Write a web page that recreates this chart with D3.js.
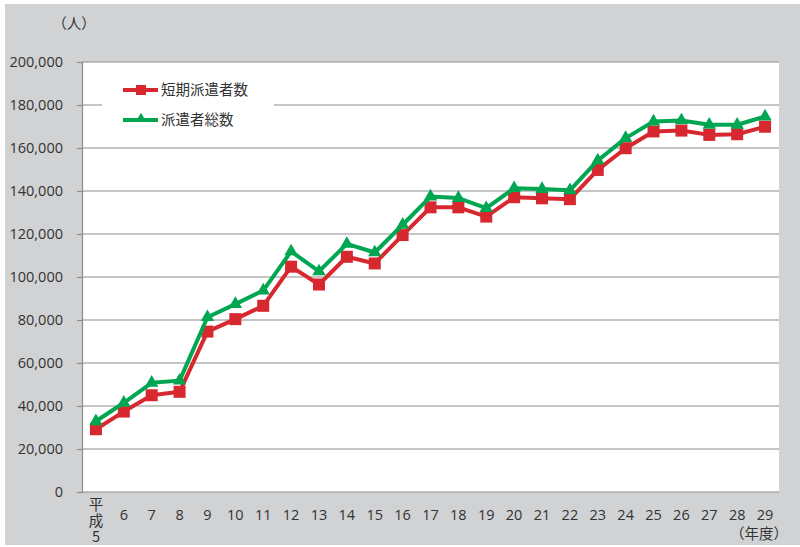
<!DOCTYPE html>
<html>
<head>
<meta charset="utf-8">
<script src="https://cdn.jsdelivr.net/npm/d3@7"></script>
<style>
  html, body { margin: 0; padding: 0; background: #fff; }
  svg { display: block; }
  text { font-family: "Open Sans", "Noto Sans CJK JP", sans-serif; fill: #333; }
</style>
</head>
<body>
<svg id="chart" width="800" height="547"></svg>
<script>
// Fiscal years (Heisei 5 – 29)
const years = [5, 6, 7, 8, 9, 10, 11, 12, 13, 14, 15, 16, 17, 18, 19, 20, 21, 22, 23, 24, 25, 26, 27, 28, 29];

// 短期派遣者数 (short-term dispatched workers)
const shortTerm = [29200, 37400, 45000, 46600, 74600, 80400, 86600, 104800, 96500, 109400, 106300, 119500,
  132400, 132400, 128100, 137100, 136600, 136200, 149800, 159900, 167700, 168100, 166100, 166400, 169900];

// 派遣者総数 (total dispatched workers)
const total = [32900, 41500, 50800, 51800, 81300, 87400, 93700, 111900, 102600, 115400, 111400, 124300,
  137400, 136700, 132000, 141300, 140900, 140300, 154200, 164600, 172300, 172800, 170800, 170800, 174600];

const yTicks = [0, 20000, 40000, 60000, 80000, 100000, 120000, 140000, 160000, 180000, 200000];

const seriesNames = ["短期派遣者数", "派遣者総数"];
const seriesColors = ["#d7282f", "#00a651"];

const svg = d3.select("#chart");
const plot = { left: 82, right: 779, top: 62, bottom: 492 };

// page background
svg.append("rect").attr("x", 5).attr("y", 4).attr("width", 795).attr("height", 541).attr("fill", "#d1d2d4");
svg.append("rect")
  .attr("x", plot.left).attr("y", plot.top)
  .attr("width", plot.right - plot.left).attr("height", plot.bottom - plot.top)
  .attr("fill", "#fff");

const x = d3.scaleBand().domain(years).range([plot.left, plot.right]);
const y = d3.scaleLinear().domain([0, 200000]).range([plot.bottom, plot.top]);

// horizontal grid lines
svg.append("g").selectAll("line").data(yTicks).join("line")
  .attr("x1", plot.left).attr("x2", plot.right)
  .attr("y1", d => y(d)).attr("y2", d => y(d))
  .attr("stroke", "#8c8c8c").attr("stroke-width", 1.2);

// legend panel (hides the grid behind it)
const legend = svg.append("g");
legend.append("rect").attr("x", 102).attr("y", 72).attr("width", 172).attr("height", 64).attr("fill", "#fff");

// y axis
const yAxis = d3.axisLeft(y).tickValues(yTicks).tickSize(5).tickPadding(14)
  .tickFormat(d3.format(","));
const gy = svg.append("g").attr("transform", `translate(${plot.left},0)`).call(yAxis);
gy.select(".domain").attr("stroke", "#8c8c8c").attr("stroke-width", 1.2);
gy.selectAll(".tick line").attr("stroke", "#8c8c8c").attr("stroke-width", 1.2);
gy.selectAll(".tick text").attr("font-size", 14.5).attr("fill", "#2b2b2b")
  .style("font-family", "'Open Sans', sans-serif");

// x axis labels (the first year is written vertically as 平成5)
const gx = svg.append("g");
years.forEach(yr => {
  const cx = x(yr) + x.bandwidth() / 2;
  if (yr === 5) {
    gx.append("text").attr("x", cx).attr("y", 497)
      .attr("font-size", 14.5).attr("fill", "#2b2b2b")
      .style("writing-mode", "vertical-rl")
      .style("text-orientation", "upright")
      .style("letter-spacing", "1.5px")
      .style("font-family", "'Noto Sans CJK JP', sans-serif")
      .text("平成5");
  } else {
    gx.append("text").attr("x", cx).attr("y", 520)
      .attr("text-anchor", "middle").attr("font-size", 14.5).attr("fill", "#2b2b2b").text(yr);
  }
});
svg.append("text").attr("x", 759).attr("y", 539).attr("text-anchor", "middle")
  .attr("font-size", 14.5).attr("fill", "#2b2b2b").text("（年度）");
svg.append("text").attr("x", 74).attr("y", 29).attr("text-anchor", "middle")
  .attr("font-size", 14.5).attr("fill", "#2b2b2b").text("（人）");

// series
const line = d3.line().x((d, i) => x(years[i]) + x.bandwidth() / 2).y(d => y(d));
const tri = d3.symbol().type(d3.symbolTriangle).size(78);

function drawSeries(values, color, marker) {
  svg.append("path").datum(values).attr("d", line)
    .attr("fill", "none").attr("stroke", color).attr("stroke-width", 4)
    .attr("stroke-linejoin", "round");
  const g = svg.append("g");
  values.forEach((v, i) => {
    const cx = x(years[i]) + x.bandwidth() / 2, cy = y(v);
    if (marker === "square") {
      g.append("rect").attr("x", cx - 6).attr("y", cy - 6).attr("width", 12).attr("height", 12).attr("fill", color);
    } else {
      g.append("path").attr("d", tri).attr("transform", `translate(${cx},${cy})`).attr("fill", color);
    }
  });
}
drawSeries(shortTerm, seriesColors[0], "square");
drawSeries(total, seriesColors[1], "triangle");

// legend entries
[{ yy: 90, m: "square" }, { yy: 120, m: "triangle" }].forEach((e, i) => {
  legend.append("line").attr("x1", 123).attr("x2", 158).attr("y1", e.yy).attr("y2", e.yy)
    .attr("stroke", seriesColors[i]).attr("stroke-width", 4);
  if (e.m === "square") {
    legend.append("rect").attr("x", 136).attr("y", e.yy - 5).attr("width", 10).attr("height", 10).attr("fill", seriesColors[i]);
  } else {
    legend.append("path").attr("d", d3.symbol().type(d3.symbolTriangle).size(50))
      .attr("transform", `translate(141,${e.yy - 1})`).attr("fill", seriesColors[i]);
  }
  legend.append("text").attr("x", 161).attr("y", e.yy + 5).attr("font-size", 14.5).attr("fill", "#2b2b2b")
    .style("font-family", "'Noto Sans CJK JP', sans-serif").text(seriesNames[i]);
});
</script>
</body>
</html>
